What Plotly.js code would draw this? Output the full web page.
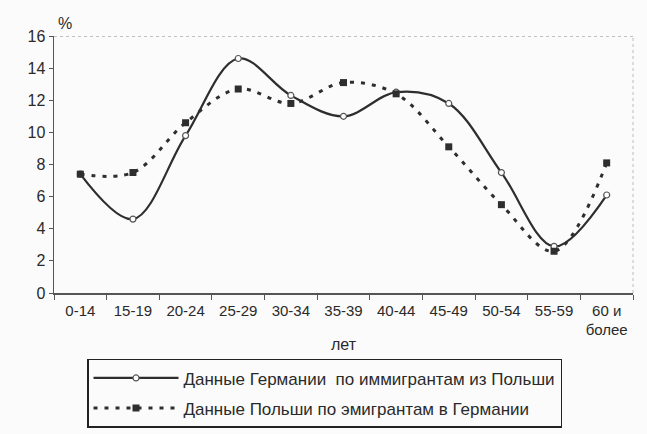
<!DOCTYPE html>
<html>
<head>
<meta charset="utf-8">
<script src="https://cdn.plot.ly/plotly-3.0.1.min.js"></script>
<style>html,body{margin:0;padding:0;background:#fbfbfb;}#chart{width:647px;height:434px;}</style>
</head>
<body>
<div id="chart"></div>
<script>
const categories = ["0-14","15-19","20-24","25-29","30-34","35-39","40-44","45-49","50-54","55-59","60 и<br>более"];
const germanyData = [7.4, 4.6, 9.8, 14.6, 12.3, 11.0, 12.5, 11.8, 7.5, 2.9, 6.1];
const polandData  = [7.4, 7.5, 10.6, 12.7, 11.8, 13.1, 12.4, 9.1, 5.5, 2.6, 8.1];
const seriesNames = ["Данные Германии  по иммигрантам из Польши", "Данные Польши по эмигрантам в Германии"];
const yTicks = [0,2,4,6,8,10,12,14,16];

const ink = "#2e2e2e";
const traces = [
  {
    x: categories, y: germanyData, name: seriesNames[0], type: "scatter", mode: "lines+markers",
    legendgroup: "g1",
    line: {color: ink, width: 2.2, shape: "spline", smoothing: 1},
    marker: {symbol: "circle", size: 6, color: "#ffffff", line: {color: "#555", width: 1.2}}
  },
  {
    x: categories, y: polandData, name: seriesNames[1], type: "scatter", mode: "lines+markers",
    legendgroup: "g2",
    line: {color: ink, width: 3, dash: "4px,7px", shape: "spline", smoothing: 1},
    marker: {symbol: "square", size: 7, color: ink}
  }
];

const layout = {
  width: 647, height: 434,
  margin: {l: 54, r: 14, t: 36, b: 141},
  paper_bgcolor: "#fbfbfb", plot_bgcolor: "#fbfbfb",
  font: {family: "Liberation Sans, Arial, sans-serif", size: 16, color: "#2a2a2a"},
  showlegend: true,
  xaxis: {
    type: "category", range: [-0.5, 10.5], automargin: false, tickangle: 0,
    showline: true, linecolor: "#555", linewidth: 1.5,
    ticks: "outside", tickson: "boundaries", ticklen: 5, tickcolor: "#555",
    ticklabelstandoff: 3,
    showgrid: false, zeroline: false,
    tickfont: {size: 15, color: "#2a2a2a"},
    title: {text: "лет", font: {size: 16, color: "#2a2a2a"}, standoff: 2}
  },
  yaxis: {
    range: [0, 16], tickvals: yTicks, automargin: false,
    showline: true, linecolor: "#555", linewidth: 1.5,
    ticks: "outside", ticklen: 4, tickcolor: "#555",
    showgrid: false, zeroline: false,
    tickfont: {size: 16, color: "#2a2a2a"}
  },
  legend: {
    x: 0.057, xanchor: "left",
    yref: "container", y: 0.173, yanchor: "top",
    bordercolor: "#222", borderwidth: 1.5, bgcolor: "#fbfbfb",
    font: {size: 17, color: "#2a2a2a"}, itemwidth: 85, tracegroupgap: 5,
    entrywidth: 490, entrywidthmode: "pixels"
  },
  annotations: [
    {xref: "paper", yref: "paper", x: 0, y: 1, xanchor: "left", yanchor: "bottom", xshift: 2, yshift: 2,
     text: "%", showarrow: false, font: {size: 16, color: "#2a2a2a"}}
  ],
  shapes: [
    {type: "line", xref: "paper", yref: "y", x0: 0, x1: 1, y0: 16, y1: 16, line: {color: "#888", width: 1, dash: "dot"}},
    {type: "line", xref: "paper", yref: "paper", x0: 1, x1: 1, y0: 0, y1: 1, line: {color: "#bbb", width: 1, dash: "dot"}}
  ]
};

Plotly.newPlot("chart", traces, layout, {displayModeBar: false, staticPlot: true});
</script>
</body>
</html>
